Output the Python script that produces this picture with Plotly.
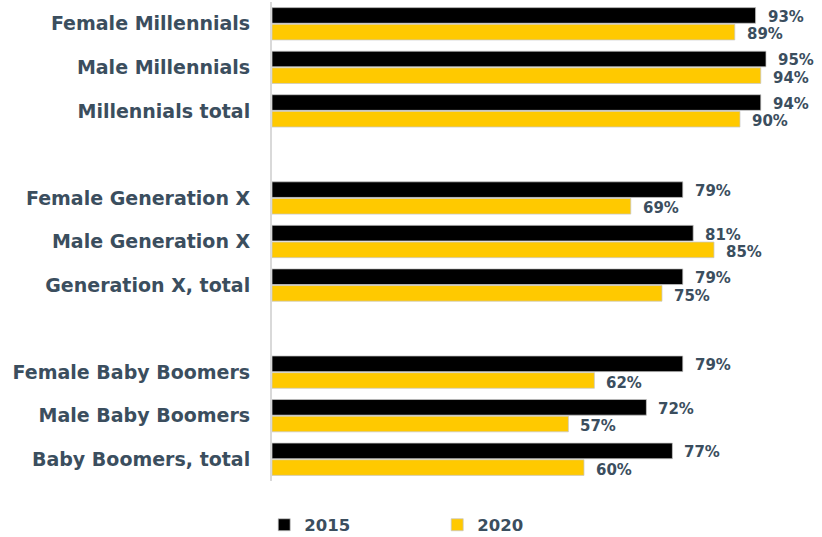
import plotly.graph_objects as go

categories = ["Female Millennials", "Male Millennials", "Millennials total", " ",
              "Female Generation X", "Male Generation X", "Generation X, total", "  ",
              "Female Baby Boomers", "Male Baby Boomers", "Baby Boomers, total"]
values_2015 = [93, 95, 94, None, 79, 81, 79, None, 79, 72, 77]
values_2020 = [89, 94, 90, None, 69, 85, 75, None, 62, 57, 60]
series_names = ["2015", "2020"]
series_colors = ["#000000", "#FFC900"]

TEXT = "#3B4E5E"
FONT = "DejaVu Sans"

fig = go.Figure()
for name, vals, col in zip(series_names, [values_2015, values_2020], series_colors):
    fig.add_trace(go.Bar(y=categories, x=vals, name=name, orientation="h",
                         marker=dict(color=col, line=dict(width=0.75, color="#C8C8C8")),
                         hoverinfo="skip"))

annotations = []
for vals, ysh in [(values_2015, 7), (values_2020, -10.5)]:
    for c, v in zip(categories, vals):
        if v is None:
            continue
        annotations.append(dict(x=v, y=c, xref="x", yref="y", text=f"{v}%",
                                showarrow=False, xanchor="left", yanchor="middle",
                                xshift=10, yshift=ysh,
                                font=dict(family=FONT, size=15, color=TEXT, weight="bold")))

fig.update_layout(
    width=822, height=537,
    margin=dict(l=272, r=30, t=2, b=56),
    paper_bgcolor="white", plot_bgcolor="white",
    barmode="group", bargap=0.235, bargroupgap=0.06,
    annotations=annotations,
    xaxis=dict(range=[0, 100], showgrid=False, zeroline=False, showticklabels=False,
               showline=False, fixedrange=True),
    yaxis=dict(autorange="reversed", categoryorder="array", categoryarray=categories,
               showgrid=False, zeroline=False, showline=True, linecolor="#D9D9D9",
               linewidth=2, ticks="", ticklabelstandoff=16, automargin=False,
               tickfont=dict(family=FONT, size=19, color=TEXT, weight="bold")),
    legend=dict(orientation="h", xref="paper", x=-0.015, yref="container", y=0.0223,
                xanchor="left", yanchor="middle",
                entrywidth=128, entrywidthmode="pixels",
                font=dict(family=FONT, size=16.5, color=TEXT, weight="bold")),
    font=dict(family=FONT),
)

fig.write_html("out.html", config={"displayModeBar": False},
               post_script="document.body.style.margin='0';")
